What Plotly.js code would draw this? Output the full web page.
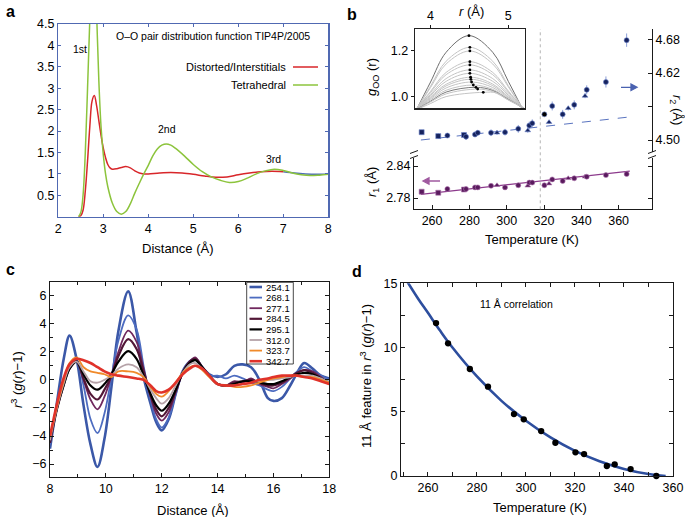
<!DOCTYPE html>
<html><head><meta charset="utf-8">
<script src="https://cdn.plot.ly/plotly-3.0.1.min.js"></script>
<style>html,body{margin:0;padding:0;background:#fff}#chart{width:685px;height:517px}</style>
</head><body><div id="chart"></div>
<script>
// ---------------- Panel a : O-O pair distribution ----------------
const aRedX = [2.45,2.5,2.55,2.6,2.65,2.7,2.75,2.8,2.85,2.9,2.95,3.0,3.05,3.1,3.15,3.2,3.3,3.4,3.5,3.6,3.7,3.8,3.9,4.0,4.25,4.5,4.75,5.0,5.25,5.5,5.75,6.0,6.25,6.5,6.75,7.0];
const aRedY = [0,0.02,0.15,0.6,1.3,2.1,2.7,2.83,2.6,2.25,1.9,1.6,1.38,1.22,1.14,1.11,1.12,1.15,1.17,1.14,1.07,1.02,1.0,1.0,1.02,1.03,1.02,0.99,0.95,0.92,0.93,0.98,1.02,1.05,1.06,1.05];
const aGreenX = [2.45,2.5,2.55,2.6,2.65,2.7,2.75,2.8,2.85,2.9,2.95,3.0,3.05,3.1,3.2,3.3,3.4,3.5,3.6,3.7,3.8,3.9,4.0,4.1,4.2,4.3,4.4,4.5,4.6,4.8,5.0,5.2,5.4,5.6,5.8,6.0,6.2,6.4,6.6,6.8,7.0,7.2,7.4,7.6,7.8,8.0];
const aGreenY = [0,0.1,0.5,1.5,3.0,4.6,6.0,6.3,4.8,3.2,2.1,1.45,1.0,0.7,0.32,0.12,0.06,0.12,0.3,0.55,0.78,1.0,1.2,1.42,1.58,1.67,1.7,1.67,1.6,1.42,1.22,1.05,0.93,0.85,0.8,0.82,0.9,1.0,1.07,1.11,1.08,1.02,0.98,0.96,0.97,0.99];
const aBlueX = [7.0,7.25,7.5,7.75,8.0];
const aBlueY = [1.05,1.02,1.0,0.99,0.99];
const aLegendLabels = ['Distorted/Interstitials','Tetrahedral'];
const aLegendColors = ['#d8262a','#8cc43c'];

// ---------------- Panel b : peak positions vs temperature ----------------
const bT   = [254.4,263.3,268.2,277.1,278.2,283.0,284.5,291.6,294.8,299.1,306.2,311.3,312.1,313.7,320.2,322.7,324.4,330.0,333.0,336.2,342.0,342.9,353.2,364.3];
const bR2  = [4.514,4.507,4.508,4.509,4.506,4.510,4.513,4.513,4.513,4.514,4.520,4.517,4.526,4.530,4.546,4.532,4.561,4.546,4.557,4.563,4.579,4.590,4.604,4.679];
const bR2err = [0.004,0.005,0.004,0.005,0.006,0.005,0.005,0.006,0.004,0.006,0.007,0.004,0.007,0.007,0.003,0.003,0.008,0.008,0.004,0.008,0.004,0.008,0.010,0.012];
const bR1  = [2.792,2.790,2.797,2.796,2.797,2.800,2.800,2.803,2.804,2.800,2.804,2.803,2.809,2.809,2.804,2.807,2.815,2.812,2.817,2.817,2.820,2.820,2.823,2.825];
const bR1err = [0.002,0.002,0.002,0.002,0.002,0.002,0.002,0.002,0.002,0.002,0.002,0.002,0.002,0.002,0.002,0.002,0.002,0.002,0.002,0.002,0.002,0.002,0.002,0.002];
const bSymbols = ['square','square','circle','square','circle','circle','circle','circle','triangle-up','circle','circle','triangle-up','circle','circle','circle','triangle-up','circle','circle','triangle-up','circle','triangle-up','circle','circle','circle'];
const bR2Colors = ['#16235e','#16235e','#16235e','#16235e','#16235e','#16235e','#16235e','#16235e','#16235e','#16235e','#16235e','#16235e','#16235e','#16235e','#000000','#16235e','#16235e','#16235e','#16235e','#16235e','#16235e','#16235e','#16235e','#16235e'];
const bR2FitT = [254, 365];
const bR2Fit  = [4.500, 4.541];
const bR1FitT = [254, 366];
const bR1Fit  = [2.787, 2.8306];
const bDivideT = 318;
// inset: second-peak curves of g_OO(r)
const insetR = [
 [3.8,4.0,4.2,4.494,4.8,5.0,5.2],[3.8,4.0,4.2,4.506,4.8,5.0,5.2],[3.8,4.0,4.2,4.506,4.8,5.0,5.2],
 [3.8,4.0,4.2,4.506,4.8,5.0,5.2],[3.8,4.0,4.2,4.506,4.8,5.0,5.2],[3.8,4.0,4.2,4.506,4.8,5.0,5.2],
 [3.8,4.0,4.2,4.506,4.8,5.0,5.2],[3.8,4.0,4.2,4.515,4.8,5.0,5.2],[3.8,4.0,4.2,4.519,4.8,5.0,5.2],
 [3.8,4.0,4.2,4.528,4.8,5.0,5.2],[3.8,4.0,4.2,4.55,4.8,5.0,5.2],[3.8,4.0,4.2,4.584,4.8,5.0,5.2],
 [3.8,4.0,4.2,4.606,4.8,5.0,5.2],[3.8,4.0,4.2,4.678,4.85,5.0,5.2]];
const insetG = [
 [0.93,1.064,1.194,1.267,1.194,1.067,0.935],[0.935,1.046,1.155,1.216,1.155,1.048,0.94],
 [0.935,1.040,1.143,1.200,1.143,1.043,0.94],[0.94,1.023,1.106,1.153,1.106,1.025,0.945],
 [0.94,1.018,1.096,1.139,1.096,1.020,0.945],[0.94,1.010,1.079,1.117,1.079,1.012,0.945],
 [0.94,1.005,1.067,1.102,1.067,1.006,0.945],[0.94,0.999,1.054,1.085,1.055,1.000,0.945],
 [0.94,0.995,1.047,1.076,1.048,0.997,0.945],[0.94,0.991,1.038,1.064,1.040,0.993,0.945],
 [0.94,0.986,1.028,1.051,1.032,0.990,0.948],[0.94,0.980,1.020,1.041,1.027,0.988,0.950],
 [0.94,0.977,1.012,1.033,1.022,0.986,0.950],[0.94,0.970,1.000,1.019,1.016,0.985,0.952]];
const insetCurveColors = ['#6e6e6e','#c4c4c4','#c4c4c4','#c4c4c4','#c4c4c4','#c4c4c4','#c4c4c4','#c4c4c4','#c4c4c4','#c4c4c4','#c4c4c4','#7a7a7a','#c4c4c4','#c4c4c4'];
const insetPeakR = [4.494,4.506,4.506,4.506,4.506,4.506,4.506,4.515,4.519,4.528,4.55,4.584,4.606,4.678];
const insetPeakG = [1.267,1.216,1.200,1.153,1.139,1.117,1.102,1.085,1.076,1.064,1.051,1.041,1.033,1.019];

// ---------------- Panel c : r^3 (g(r)-1) ----------------
const cX = [8.0,8.25,8.5,8.7,8.95,9.2,9.45,9.7,9.95,10.2,10.45,10.8,11.1,11.35,11.6,11.8,12.0,12.25,12.5,12.75,13.0,13.2,13.45,13.7,14.0,14.3,14.6,14.9,15.2,15.5,15.8,16.0,16.3,16.6,16.85,17.1,17.4,17.7,18.0];
const c254 = [-4.9,-1.6,1.6,3.15,1.5,-1.8,-4.6,-6.2,-4.2,-0.5,3.5,6.3,3.4,0.2,-1.7,-3.0,-3.6,-2.8,-1.0,0.6,1.3,1.5,0.9,0.4,0.2,0.4,1.0,1.1,0.9,0.0,-1.3,-1.5,-1.3,-0.4,0.5,1.2,0.8,0.3,0.1];
const c268 = [-4.6,-2.0,0.0,1.0,1.4,-0.4,-2.8,-3.8,-2.4,0.2,2.8,4.6,3.6,1.0,-1.4,-2.8,-3.4,-2.7,-1.0,0.5,1.2,1.5,0.8,0.3,0.3,0.1,0.3,0.1,-0.2,-0.4,-0.7,-0.8,-0.5,0.1,0.6,0.9,0.6,0.3,0.0];
const c277 = [-4.4,-2.0,-0.2,0.9,1.35,0.0,-1.4,-2.1,-1.2,0.3,2.0,3.5,2.7,0.8,-1.2,-2.4,-2.9,-2.3,-0.9,0.5,1.3,1.6,0.9,0.3,-0.3,-0.4,-0.1,-0.2,0.1,-0.3,-0.5,-0.6,-0.3,0.1,0.5,0.7,0.6,0.2,-0.3];
const c284 = [-4.5,-2.1,-0.3,0.8,1.3,0.1,-1.0,-1.4,-0.7,0.3,1.7,2.9,2.2,0.6,-1.1,-2.1,-2.6,-2.0,-0.8,0.5,1.3,1.5,0.9,0.3,-0.3,-0.4,-0.2,-0.1,0.0,-0.2,-0.4,-0.4,-0.2,0.2,0.5,0.7,0.5,0.1,-0.3];
const c295 = [-4.2,-2.0,-0.3,0.8,1.3,0.4,-0.4,-0.7,-0.3,0.4,1.3,2.05,1.5,0.3,-1.0,-1.8,-2.2,-1.7,-0.7,0.5,1.2,1.4,0.9,0.3,-0.3,-0.4,-0.3,-0.1,-0.1,-0.2,-0.3,-0.3,-0.1,0.2,0.4,0.5,0.4,0.1,-0.2];
const c312 = [-4.3,-2.0,-0.2,0.9,1.3,0.6,-0.1,-0.2,0.0,0.3,0.8,1.1,0.9,0.2,-0.7,-1.3,-1.7,-1.3,-0.4,0.5,1.1,1.2,0.8,0.3,-0.3,-0.4,-0.4,-0.3,-0.2,-0.1,0.0,0.0,0.1,0.2,0.3,0.3,0.3,0.1,-0.2];
const c323 = [-4.1,-1.9,0.0,1.2,1.6,0.9,0.6,0.5,0.4,0.2,0.6,0.6,0.5,0.2,-0.5,-1.0,-1.2,-0.8,-0.2,0.5,0.9,1.0,0.7,0.2,-0.3,-0.4,-0.5,-0.5,-0.4,-0.2,0.0,0.1,0.2,0.3,0.3,0.2,0.2,0.0,-0.2];
const c342 = [-4.0,-1.7,0.2,1.1,1.5,1.4,1.2,0.9,0.6,0.4,0.3,0.2,0.1,0.0,-0.4,-0.8,-0.9,-0.7,-0.2,0.4,0.8,1.0,0.8,0.3,-0.3,-0.4,-0.4,-0.3,-0.2,0.0,0.1,0.2,0.3,0.3,0.3,0.2,0.1,-0.1,-0.3];
const cSeries = [c254,c268,c277,c284,c295,c312,c323,c342];
const cLabels = ['254.1','268.1','277.1','284.5','295.1','312.0','323.7','342.7'];
const cColors = ['#3b58a8','#4d6cc0','#70285e','#521737','#000000','#b5a2a8','#f08a2a','#e0322a'];
const cWidths = [2.6,1.8,1.8,2.2,2.2,1.8,1.8,2.6];

// ---------------- Panel d : 11 Å feature ----------------
const dT = [263.3,268.2,277.1,284.5,295.1,299.1,306.2,312.0,320.2,323.7,333.0,336.2,342.7,353.2];
const dY = [11.9,10.33,8.33,6.95,4.82,4.41,3.5,2.59,1.84,1.71,0.78,0.91,0.54,0.0];
const dFitT = [251,256,260,265,270,280,290,300,310,320,330,340,350,357];
const dFitY = [15.3,13.8,12.7,11.3,10.0,7.75,5.85,4.3,3.0,1.95,1.15,0.55,0.15,0.0];

// ---------------- helpers ----------------
const W = 685, H = 517;
const PX = v => v / W, PY = v => 1 - v / H;
const FONT = 'Liberation Sans, Arial, Helvetica, sans-serif';
const ink = '#1a1a1a';

const traces = [];
// a
traces.push({x:aBlueX,y:aBlueY,xaxis:'x',yaxis:'y',mode:'lines',line:{color:'#4f6fb8',width:1.5,shape:'spline'}});
traces.push({x:aRedX,y:aRedY,xaxis:'x',yaxis:'y',mode:'lines',line:{color:aLegendColors[0],width:1.5,shape:'spline'}});
traces.push({x:aGreenX,y:aGreenY,xaxis:'x',yaxis:'y',mode:'lines',line:{color:aLegendColors[1],width:1.5,shape:'spline'}});
// b lower (r1)
traces.push({x:bR1FitT,y:bR1Fit,xaxis:'x2',yaxis:'y2',mode:'lines',line:{color:'#8c3a8c',width:1.2}});
traces.push({x:bT,y:bR1,xaxis:'x2',yaxis:'y2',mode:'markers',
  marker:{symbol:bSymbols,size:5,color:'#5a1a5e',line:{color:'#b07ab0',width:0.6}},
  error_y:{type:'data',array:bR1err,color:'#c090c0',thickness:1,width:0}});
// b upper (r2)
traces.push({x:bR2FitT,y:bR2Fit,xaxis:'x3',yaxis:'y3',mode:'lines',line:{color:'#5a74c0',width:1,dash:'dash'}});
traces.push({x:bT,y:bR2,xaxis:'x3',yaxis:'y3',mode:'markers',
  marker:{symbol:bSymbols,size:5,color:bR2Colors,line:{color:'#6f86cc',width:0.6}},
  error_y:{type:'data',array:bR2err,color:'#8ea0d8',thickness:1,width:0}});
// b inset
insetR.forEach((r,i)=>traces.push({x:r,y:insetG[i],xaxis:'x5',yaxis:'y5',mode:'lines',
  line:{color:insetCurveColors[i],width:1,shape:'spline'}}));
traces.push({x:insetPeakR,y:insetPeakG,xaxis:'x5',yaxis:'y5',mode:'markers',marker:{color:'#000',size:2.8}});
// c
cSeries.forEach((s,i)=>traces.push({x:cX,y:s,xaxis:'x6',yaxis:'y6',mode:'lines',name:cLabels[i],
  line:{color:cColors[i],width:cWidths[i],shape:'spline',smoothing:1}}));
// d
traces.push({x:dFitT,y:dFitY,xaxis:'x7',yaxis:'y7',mode:'lines',line:{color:'#2d4e9e',width:2.6,shape:'spline'}});
traces.push({x:dT,y:dY,xaxis:'x7',yaxis:'y7',mode:'markers',marker:{color:'#000',size:6.3},cliponaxis:false});

const baseAxis = {showgrid:false,zeroline:false,showline:true,linecolor:ink,linewidth:1,
  ticks:'inside',ticklen:4,tickcolor:ink,tickfont:{size:12.5,color:'#000'},mirror:'ticks'};

const layout = {
  width:W,height:H,margin:{l:0,r:0,t:0,b:0},showlegend:false,
  paper_bgcolor:'#fff',plot_bgcolor:'#fff',font:{family:FONT,size:12,color:'#000'},
  // a
  xaxis:Object.assign({},baseAxis,{domain:[PX(58.3),PX(328.3)],range:[2,8],anchor:'y',dtick:1,
    linecolor:'#5069b2',tickcolor:'#5069b2',linewidth:1.3,ticklen:3}),
  yaxis:Object.assign({},baseAxis,{domain:[PY(216.7),PY(24)],range:[0,4.5],anchor:'x',
    tickvals:[0.5,1,1.5,2,2.5,3,3.5,4,4.5],linecolor:'#5069b2',tickcolor:'#5069b2',linewidth:1.3,ticklen:3}),
  // b lower
  xaxis2:Object.assign({},baseAxis,{domain:[PX(414),PX(652)],range:[250.3,377.9],anchor:'y2',
    tickvals:[260,280,300,320,340,360],mirror:false}),
  yaxis2:Object.assign({},baseAxis,{domain:[PY(209.3),PY(158)],range:[2.759,2.855],anchor:'x2',
    tickvals:[2.78,2.84],ticktext:['2.78','2.84']}),
  // b upper
  xaxis3:{domain:[PX(414),PX(652)],range:[250.3,377.9],anchor:'y3',visible:false,showgrid:false,zeroline:false},
  yaxis3:Object.assign({},baseAxis,{domain:[PY(152),PY(29)],range:[4.4785,4.699],anchor:'x3',side:'right',
    mirror:false,tickvals:[4.50,4.62,4.68],ticktext:['4.50','4.62','4.68'],
    minor:{tickvals:[4.56],ticks:'inside',ticklen:4,tickcolor:ink}}),
  yaxis4:Object.assign({},baseAxis,{domain:[PY(152),PY(29)],range:[4.4785,4.699],anchor:'x3',side:'left',
    overlaying:'y3',mirror:false,tickvals:[4.50],ticktext:['4.50']}),
  // b inset
  xaxis5:Object.assign({},baseAxis,{domain:[PX(415),PX(525)],range:[3.80,5.215],anchor:'y5',side:'top',
    ticks:'outside',ticklen:3,mirror:true,linewidth:1.4,linecolor:'#222',tickvals:[4,5],ticktext:['4','5'],
    minor:{tickvals:[4.5],ticks:'outside',ticklen:3,tickcolor:ink}}),
  yaxis5:Object.assign({},baseAxis,{domain:[PY(108.3),PY(29)],range:[0.949,1.296],anchor:'x5',
    ticks:'outside',ticklen:3,mirror:true,linewidth:1.4,linecolor:'#222',tickvals:[1.0,1.2],ticktext:['1.0','1.2']}),
  // c
  xaxis6:Object.assign({},baseAxis,{domain:[PX(50),PX(329.3)],range:[8,18],anchor:'y6',
    tickvals:[8,10,12,14,16,18],minor:{tickvals:[9,11,13,15,17],ticks:'inside',ticklen:2.5,tickcolor:ink}}),
  yaxis6:Object.assign({},baseAxis,{domain:[PY(476.7),PY(282.3)],range:[-6.9,6.95],anchor:'x6',
    tickvals:[-6,-4,-2,0,2,4,6],ticktext:['\u22126','\u22124','\u22122','0','2','4','6'],
    minor:{tickvals:[-5,-3,-1,1,3,5],ticks:'inside',ticklen:2.5,tickcolor:ink}}),
  // d
  xaxis7:Object.assign({},baseAxis,{domain:[PX(401),PX(673)],range:[249,360],anchor:'y7',
    tickvals:[260,280,300,320,340,360],minor:{tickvals:[250,270,290,310,330,350],ticks:'inside',ticklen:4,tickcolor:ink}}),
  yaxis7:Object.assign({},baseAxis,{domain:[PY(476),PY(283.3)],range:[0,15],anchor:'x7',
    tickvals:[0,5,10,15],minor:{tickvals:[2.5,7.5,12.5],ticks:'inside',ticklen:4,tickcolor:ink}}),
  annotations:[],shapes:[]
};

function ann(text,x,y,o){return Object.assign({xref:'paper',yref:'paper',x:PX(x),y:PY(y),text:text,showarrow:false,
  xanchor:'center',yanchor:'middle',font:{size:12.5,color:'#000'}},o||{});}
function arrowPath(xTail,xHead,y){ // horizontal arrow drawn in paper coordinates
  const d = xHead > xTail ? 1 : -1, b = xHead - d*6;
  return 'M'+PX(xTail)+','+PY(y)+' L'+PX(b)+','+PY(y)+
         ' M'+PX(b)+','+PY(y-3.2)+' L'+PX(xHead)+','+PY(y)+' L'+PX(b)+','+PY(y+3.2)+' Z';
}
const A = layout.annotations, S = layout.shapes;
// panel letters
[['a',10,12],['b',352,14],['c',10,269],['d',357,271]].forEach(p=>A.push(ann('<b>'+p[0]+'</b>',p[1],p[2],{font:{size:16}})));
// panel a texts
A.push(ann('O\u2013O pair distribution function TIP4P/2005',213,36,{font:{size:10.5}}));
A.push(ann('1st',80,49,{font:{size:10.5}}));
A.push(ann('2nd',167,129,{font:{size:10.5}}));
A.push(ann('3rd',273,159,{font:{size:10.5}}));
A.push(ann('Distance (\u00c5)',178,248,{font:{size:13}}));
aLegendLabels.forEach((t,i)=>{
  const yy = 67 + i*18;
  A.push(ann(t,288,yy,{xanchor:'right',font:{size:11}}));
  S.push({type:'line',xref:'paper',yref:'paper',x0:PX(293),x1:PX(318),y0:PY(yy),y1:PY(yy),line:{color:aLegendColors[i],width:1.5}});
});
// panel b texts
A.push(ann('<i>r</i> (\u00c5)',471.7,12,{font:{size:13}}));
A.push(ann('<i>g</i><sub>OO</sub> (r)',372,77,{textangle:-90,font:{size:13}}));
A.push(ann('<i>r</i><sub>1</sub> (\u00c5)',372,182,{textangle:-90,font:{size:13}}));
A.push(ann('<i>r</i><sub>2</sub> (\u00c5)',676,110,{textangle:90,font:{size:13}}));
A.push(ann('Temperature (K)',532,240,{font:{size:13}}));
S.push({type:'path',xref:'paper',yref:'paper',path:arrowPath(621,637,87.3),line:{color:'#4a62b0',width:1.3},fillcolor:'#4a62b0'});
S.push({type:'path',xref:'paper',yref:'paper',path:arrowPath(440,423,181),line:{color:'#a05aa0',width:1.3},fillcolor:'#a05aa0'});
S.push({type:'line',xref:'x2',yref:'paper',x0:bDivideT,x1:bDivideT,y0:PY(209.3),y1:PY(29),line:{color:'#b4b4b4',width:1,dash:'dot'}});
// axis-break marks
[414,652].forEach(xx=>{
  S.push({type:'line',xref:'paper',yref:'paper',x0:PX(xx-4),x1:PX(xx+4),y0:PY(153.5),y1:PY(150.5),line:{color:ink,width:1}});
  S.push({type:'line',xref:'paper',yref:'paper',x0:PX(xx-4),x1:PX(xx+4),y0:PY(158.5),y1:PY(155.5),line:{color:ink,width:1}});
});
// panel c texts + legend
A.push(ann('Distance (\u00c5)',193,510,{font:{size:13}}));
A.push(ann('<i>r</i><sup>3</sup> (<i>g</i>(<i>r</i>)\u22121)',17,380,{textangle:-90,font:{size:13}}));
S.push({type:'rect',xref:'paper',yref:'paper',x0:PX(246.7),x1:PX(293.3),y0:PY(364),y1:PY(282.3),line:{color:ink,width:0.8},fillcolor:'#fff',layer:'above'});
cLabels.forEach((t,i)=>{
  const yy = 287 + i*10.6;
  S.push({type:'line',xref:'paper',yref:'paper',x0:PX(249.5),x1:PX(262),y0:PY(yy),y1:PY(yy),line:{color:cColors[i],width:cWidths[i]}});
  A.push(ann(t,265,yy,{xanchor:'left',font:{size:9.5},borderpad:0}));
});
// panel d texts
A.push(ann('11 \u00c5 correlation',516.7,304.3,{font:{size:10.5}}));
A.push(ann('Temperature (K)',540,508,{font:{size:13}}));
A.push(ann('11 \u00c5 feature in <i>r</i><sup>3</sup> (<i>g</i>(<i>r</i>)\u22121)',366,376,{textangle:-90,font:{size:13}}));

Plotly.newPlot('chart',traces,layout,{staticPlot:true,displayModeBar:false});
</script></body></html>
